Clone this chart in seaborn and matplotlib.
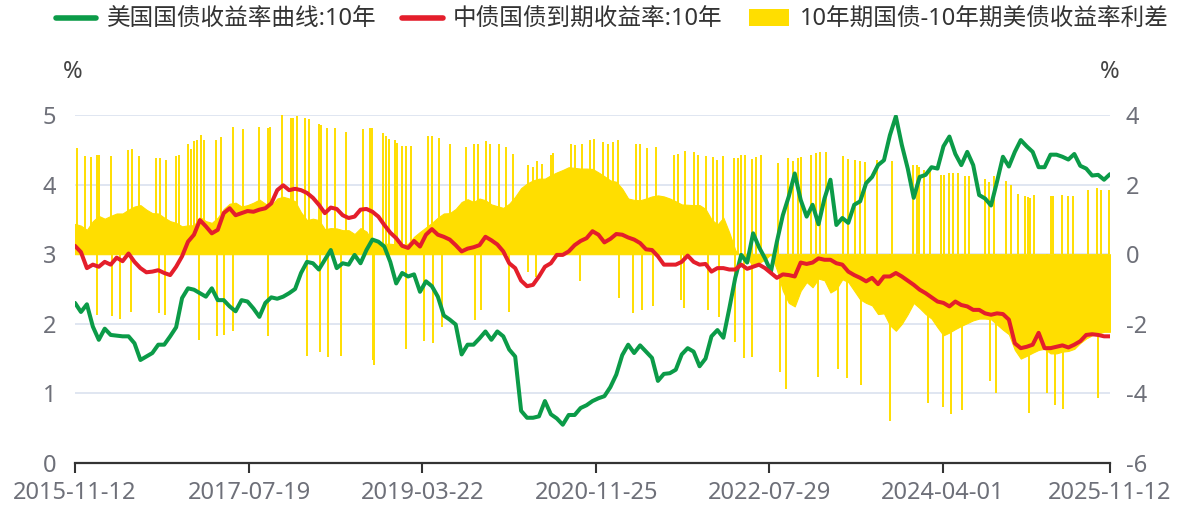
import numpy as np
import pandas as pd
import matplotlib
matplotlib.use("Agg")
import matplotlib.pyplot as plt
from matplotlib.lines import Line2D
from matplotlib.patches import Patch
import seaborn as sns

# ---------------------------------------------------------------- data
start_date, end_date = "2015-11-12", "2025-11-12"
n_obs = 175  # roughly three-weekly observations

# US Treasury 10Y yield (%)
us_10y = [
    2.30, 2.17, 2.28, 1.96, 1.77, 1.93, 1.84, 1.83, 1.82, 1.82,
    1.72, 1.48, 1.53, 1.58, 1.70, 1.70, 1.82, 1.95, 2.37, 2.51,
    2.49, 2.44, 2.39, 2.51, 2.34, 2.34, 2.25, 2.18, 2.34, 2.32,
    2.22, 2.10, 2.30, 2.38, 2.36, 2.39, 2.44, 2.50, 2.73, 2.89,
    2.87, 2.78, 2.92, 3.06, 2.80, 2.87, 2.85, 2.99, 2.87, 3.06,
    3.21, 3.18, 3.11, 2.89, 2.58, 2.73, 2.68, 2.71, 2.46, 2.61,
    2.54, 2.39, 2.12, 2.06, 1.99, 1.56, 1.70, 1.70, 1.79, 1.89,
    1.77, 1.89, 1.82, 1.63, 1.53, 0.75, 0.65, 0.65, 0.67, 0.89,
    0.70, 0.64, 0.55, 0.69, 0.69, 0.79, 0.83, 0.89, 0.93, 0.96,
    1.09, 1.27, 1.55, 1.70, 1.58, 1.69, 1.60, 1.51, 1.18, 1.28,
    1.29, 1.34, 1.56, 1.65, 1.60, 1.39, 1.50, 1.82, 1.91, 1.80,
    2.22, 2.66, 2.99, 2.88, 3.30, 3.10, 2.94, 2.75, 3.18, 3.56,
    3.83, 4.16, 3.78, 3.54, 3.71, 3.43, 3.80, 4.07, 3.42, 3.52,
    3.45, 3.71, 3.76, 4.02, 4.11, 4.28, 4.35, 4.71, 4.98, 4.57,
    4.23, 3.81, 4.11, 4.14, 4.25, 4.23, 4.55, 4.69, 4.44, 4.28,
    4.47, 4.28, 3.85, 3.80, 3.70, 4.04, 4.40, 4.26, 4.47, 4.64,
    4.55, 4.47, 4.25, 4.25, 4.43, 4.43, 4.40, 4.36, 4.44, 4.27,
    4.23, 4.13, 4.14, 4.07, 4.15,
]

# ChinaBond government bond 10Y yield to maturity (%)
cn_10y = [
    3.12, 3.03, 2.80, 2.85, 2.82, 2.89, 2.85, 2.95, 2.90, 3.01,
    2.89, 2.80, 2.74, 2.75, 2.77, 2.73, 2.70, 2.82, 2.97, 3.18,
    3.28, 3.49, 3.40, 3.30, 3.35, 3.59, 3.66, 3.56, 3.59, 3.62,
    3.61, 3.64, 3.66, 3.73, 3.92, 3.99, 3.92, 3.94, 3.92, 3.88,
    3.81, 3.71, 3.59, 3.67, 3.65, 3.56, 3.52, 3.54, 3.64, 3.65,
    3.61, 3.54, 3.42, 3.31, 3.23, 3.12, 3.09, 3.19, 3.11, 3.28,
    3.36, 3.28, 3.25, 3.21, 3.13, 3.04, 3.08, 3.10, 3.13, 3.25,
    3.20, 3.14, 3.04, 2.87, 2.80, 2.62, 2.54, 2.56, 2.68, 2.82,
    2.87, 2.99, 2.99, 3.04, 3.13, 3.19, 3.23, 3.33, 3.28, 3.17,
    3.22, 3.29, 3.28, 3.24, 3.21, 3.16, 3.07, 3.06, 2.97, 2.85,
    2.85, 2.85, 2.89, 2.98, 2.89, 2.85, 2.86, 2.75, 2.80, 2.80,
    2.78, 2.78, 2.85, 2.79, 2.82, 2.85, 2.80, 2.73, 2.66, 2.71,
    2.70, 2.68, 2.88, 2.86, 2.88, 2.94, 2.92, 2.92, 2.87, 2.85,
    2.75, 2.70, 2.66, 2.61, 2.66, 2.57, 2.68, 2.68, 2.73, 2.68,
    2.62, 2.56, 2.49, 2.44, 2.38, 2.32, 2.30, 2.25, 2.32, 2.27,
    2.25, 2.20, 2.20, 2.15, 2.13, 2.15, 2.14, 2.06, 1.72, 1.65,
    1.67, 1.70, 1.87, 1.65, 1.65, 1.67, 1.69, 1.66, 1.70, 1.75,
    1.84, 1.85, 1.84, 1.82, 1.82,
]

# 10Y CGB minus 10Y UST spread (%), upper envelope of daily values
spread = [
    0.87, 0.82, 0.70, 0.95, 1.10, 1.02, 1.10, 1.17, 1.17, 1.28,
    1.37, 1.41, 1.28, 1.18, 1.17, 1.05, 0.95, 0.90, 0.80, 0.83,
    0.83, 1.07, 0.95, 0.90, 1.05, 1.30, 1.45, 1.48, 1.37, 1.41,
    1.48, 1.57, 1.45, 1.40, 1.60, 1.65, 1.60, 1.52, 1.20, 0.98,
    1.02, 0.98, 0.72, 0.75, 0.74, 0.69, 0.69, 0.58, 0.75, 0.65,
    0.37, 0.30, 0.30, 0.30, 0.28, 0.28, 0.30, 0.50, 0.64, 0.77,
    0.90, 1.05, 1.17, 1.18, 1.30, 1.50, 1.58, 1.50, 1.60, 1.55,
    1.43, 1.38, 1.33, 1.45, 1.65, 1.90, 2.03, 2.12, 2.17, 2.17,
    2.27, 2.35, 2.42, 2.50, 2.48, 2.46, 2.46, 2.45, 2.35, 2.24,
    2.12, 2.08, 1.88, 1.60, 1.56, 1.55, 1.60, 1.66, 1.69, 1.66,
    1.60, 1.52, 1.43, 1.42, 1.41, 1.41, 1.30, 1.00, 0.85, 1.05,
    0.62, 0.12, -0.08, -0.10, -0.35, -0.25, -0.15, 0.00, -0.45, -1.05,
    -1.40, -1.50, -1.05, -0.80, -0.95, -0.70, -0.75, -1.10, -1.00, -0.72,
    -0.80, -1.05, -1.30, -1.40, -1.47, -1.72, -1.70, -2.04, -2.20, -2.00,
    -1.72, -1.40, -1.55, -1.72, -1.85, -2.10, -2.33, -2.25, -2.15, -2.06,
    -1.98, -1.90, -1.85, -1.85, -1.87, -2.02, -2.17, -2.30, -2.75, -3.00,
    -2.92, -2.83, -2.75, -2.72, -2.85, -2.85, -2.80, -2.78, -2.72, -2.55,
    -2.42, -2.33, -2.28, -2.23, -2.23,
]

# Days on which the US market was closed: the spread equals the CGB yield
us_closed_dates = [
    "2015-11-18", "2015-12-17", "2016-01-06", "2016-01-27", "2016-02-05", "2016-03-17",
    "2016-05-18", "2016-06-01", "2016-06-24", "2016-08-24", "2016-09-07", "2016-09-28",
    "2016-11-02", "2016-11-14", "2016-12-16", "2016-12-24",
    "2017-01-05", "2017-01-14", "2017-01-28", "2017-02-10", "2017-03-24", "2017-04-09",
    "2017-05-21", "2017-06-26", "2017-08-24", "2017-09-22", "2017-09-30", "2017-11-13",
    "2017-12-13", "2017-12-21",
    "2018-01-04", "2018-02-01", "2018-02-16", "2018-03-23", "2018-03-28", "2018-04-18",
    "2018-05-19", "2018-06-25", "2018-08-23", "2018-09-18", "2018-09-27", "2018-11-02",
    "2018-11-12", "2018-11-25", "2018-12-14", "2018-12-21",
    "2019-01-08", "2019-01-23", "2019-02-10", "2019-04-12", "2019-04-26", "2019-05-20",
    "2019-06-27", "2019-08-23", "2019-09-20", "2019-10-05", "2019-11-02", "2019-11-16",
    "2019-12-17",
    "2020-01-11", "2020-02-06", "2020-03-30", "2020-04-14", "2020-05-01", "2020-05-16",
    "2020-06-17", "2020-06-26", "2020-08-26", "2020-09-12", "2020-10-04", "2020-11-03",
    "2020-11-18", "2020-12-17",
    "2021-01-06", "2021-01-22", "2021-02-10", "2021-04-14", "2021-04-28", "2021-05-24",
    "2021-06-24", "2021-08-26", "2021-09-10", "2021-10-04", "2021-11-05", "2021-11-20",
    "2021-12-16",
    "2022-01-10", "2022-01-24", "2022-02-14", "2022-03-26", "2022-04-10", "2022-04-19",
    "2022-05-04", "2022-05-27", "2022-06-11", "2022-06-28", "2022-08-29", "2022-10-01",
    "2022-10-21", "2022-11-07", "2022-11-19", "2022-12-21",
    "2023-01-09", "2023-01-23", "2023-02-13", "2023-04-16", "2023-05-03", "2023-05-27",
    "2023-06-13", "2023-07-01", "2023-08-11", "2023-10-03", "2023-12-19", "2023-12-31",
    "2024-01-08", "2024-01-26", "2024-02-15", "2024-03-24", "2024-04-05", "2024-04-24",
    "2024-05-08", "2024-05-24", "2024-06-18", "2024-07-03", "2024-08-28", "2024-09-12",
    "2024-09-30", "2024-11-10", "2024-11-27", "2024-12-24",
    "2025-01-17", "2025-01-25", "2025-02-04", "2025-02-17", "2025-04-17", "2025-04-26",
    "2025-05-27", "2025-06-18", "2025-07-03", "2025-08-28", "2025-09-27", "2025-10-11",
    "2025-11-10",
]
us_closed_spread = [
    3.05, 2.82, 2.79, 2.86, 2.84, 2.82, 2.99, 3.03, 2.82, 2.77, 2.77, 2.70,
    2.82, 2.86, 3.18, 3.03,
    3.25, 3.27, 3.42, 3.27, 3.27, 3.37, 3.66, 3.60, 3.66, 3.63, 3.66, 4.00,
    3.90, 3.90,
    3.97, 3.90, 3.88, 3.75, 3.70, 3.63, 3.63, 3.51, 3.60, 3.63, 3.63, 3.49,
    3.40, 3.32, 3.28, 3.20,
    3.11, 3.11, 3.11, 3.40, 3.40, 3.34, 3.16, 3.08, 3.16, 3.18, 3.24, 3.16,
    3.16,
    3.08, 2.89, 2.55, 2.50, 2.67, 2.60, 2.84, 2.92, 3.16, 3.13, 3.18, 3.27,
    3.30, 3.21,
    3.16, 3.23, 3.27, 3.18, 3.18, 3.05, 3.08, 2.84, 2.89, 2.96, 2.94, 2.86,
    2.82,
    2.79, 2.70, 2.82, 2.76, 2.76, 2.84, 2.84, 2.73, 2.80, 2.85, 2.63, 2.77,
    2.67, 2.77, 2.80, 2.86,
    2.91, 2.93, 2.93, 2.82, 2.74, 2.70, 2.67, 2.65, 2.70, 2.67, 2.55, 2.55,
    2.51, 2.41, 2.45, 2.29, 2.29, 2.32, 2.34, 2.32, 2.25, 2.25, 2.17, 2.08,
    2.25, 2.10, 2.00, 1.74,
    1.67, 1.64, 1.62, 1.69, 1.67, 1.67, 1.71, 1.67, 1.67, 1.84, 1.89, 1.84,
    1.84,
]

# Days on which the China market was closed: the spread equals minus the UST yield
cn_closed_dates = [
    "2016-01-30", "2016-03-23", "2016-04-20", "2016-05-29", "2016-09-05", "2016-09-26",
    "2017-01-24", "2017-03-27", "2017-04-22", "2017-05-23", "2017-09-24",
    "2018-02-08", "2018-03-25", "2018-04-22", "2018-06-07", "2018-09-29", "2018-10-04",
    "2019-01-25", "2019-03-29", "2019-04-28", "2019-05-31", "2019-09-25", "2019-10-15",
    "2020-01-23", "2020-03-28", "2020-04-27", "2020-09-27",
    "2021-02-12", "2021-04-05", "2021-05-05", "2021-06-14", "2021-09-21", "2021-10-01",
    "2021-12-23",
    "2022-01-31", "2022-03-30", "2022-04-30", "2022-05-30", "2022-09-03", "2022-09-27",
    "2023-01-17", "2023-03-29", "2023-04-28", "2023-06-17", "2023-09-28",
    "2024-02-09", "2024-04-01", "2024-04-30", "2024-06-07", "2024-09-14", "2024-10-04",
    "2025-01-29", "2025-04-03", "2025-05-02", "2025-05-31", "2025-10-01",
]
cn_closed_spread = [
    -1.75, -1.77, -1.87, -1.66, -1.70, -1.75,
    -2.47, -2.34, -2.33, -2.20, -2.34,
    -2.92, -2.82, -2.95, -2.92, -3.04, -3.19,
    -2.71, -2.50, -2.55, -2.09, -1.88, -1.61,
    -1.66, -0.50, -0.65, -0.78,
    -1.27, -1.70, -1.61, -1.48, -1.32, -1.56,
    -1.61,
    -1.80, -2.52, -2.98, -2.95, -3.38, -3.86,
    -3.52, -3.30, -3.56, -3.75, -4.79,
    -4.29, -4.38, -4.60, -4.48, -3.64, -4.00,
    -4.55, -4.00, -4.33, -4.45, -4.14,
]

tick_labels = ["2015-11-12", "2017-07-19", "2019-03-22", "2020-11-25",
               "2022-07-29", "2024-04-01", "2025-11-12"]

legend_labels = ["美国国债收益率曲线:10年", "中债国债到期收益率:10年",
                 "10年期国债-10年期美债收益率利差"]

# ---------------------------------------------------------------- style
GREEN = "#0B9B48"
RED = "#E41E2B"
YELLOW = "#FFDE00"
GRID = "#E0E6F1"
LABEL = "#6E7079"
AXIS = "#333333"

sns.set_theme(style="white")
plt.rcParams["font.family"] = ["Noto Sans", "Noto Sans CJK SC"]
plt.rcParams["axes.unicode_minus"] = False
FS = 17

dates = pd.date_range(start_date, end_date, periods=n_obs)
df = pd.DataFrame({"date": dates, "us": us_10y, "cn": cn_10y, "spread": spread})

W, H = 1182, 507
fig = plt.figure(figsize=(W / 100, H / 100), dpi=100)
left, right, top, bottom = 75, 1110, 115, 463
ax = fig.add_axes([left / W, 1 - bottom / H, (right - left) / W, (bottom - top) / H])
ax2 = ax.twinx()
ax.set_zorder(ax2.get_zorder() + 1)
ax.patch.set_visible(False)

# spread (right axis, beneath the yield lines)
ax2.set_axisbelow(True)
ax2.grid(axis="y", color=GRID, linewidth=1.4)
ax2.fill_between(df["date"], 0, df["spread"], color=YELLOW, linewidth=0.8,
                 edgecolor=YELLOW, zorder=2)
ax2.vlines(pd.to_datetime(us_closed_dates), 0, us_closed_spread,
           color=YELLOW, linewidth=1.4, zorder=2)
ax2.vlines(pd.to_datetime(cn_closed_dates), 0, cn_closed_spread,
           color=YELLOW, linewidth=1.4, zorder=2)
ax2.set_ylim(-6, 4)
ax2.set_yticks(np.arange(-6, 5, 2))
ax2.tick_params(axis="y", length=0, pad=11.5, labelsize=FS, labelcolor=LABEL)

# yields (left axis)
sns.lineplot(data=df, x="date", y="us", ax=ax, color=GREEN, linewidth=2.9, legend=False)
sns.lineplot(data=df, x="date", y="cn", ax=ax, color=RED, linewidth=2.9, legend=False)
ax.set_ylim(0, 5)
ax.set_yticks(range(0, 6))
ax.tick_params(axis="y", length=0, pad=13.5, labelsize=FS, labelcolor=LABEL)
ax.set_xlabel("")
ax.set_ylabel("")
ax2.set_ylabel("")

ax.set_xlim(pd.Timestamp(start_date), pd.Timestamp(end_date))
ax.set_xticks(pd.to_datetime(tick_labels))
ax.set_xticklabels(tick_labels)
ax.tick_params(axis="x", length=7, width=1.5, color=AXIS, pad=6,
               labelsize=FS, labelcolor=LABEL, bottom=True)

for a in (ax, ax2):
    for s in a.spines.values():
        s.set_visible(False)
ax.spines["bottom"].set_visible(True)
ax.spines["bottom"].set_color(AXIS)
ax.spines["bottom"].set_linewidth(1.6)

fig.text(73 / W, 1 - 72 / H, "%", ha="center", va="center", fontsize=FS, color="#444444")
fig.text(1110 / W, 1 - 72 / H, "%", ha="center", va="center", fontsize=FS, color="#444444")

handles = [Line2D([], [], color=GREEN, linewidth=4),
           Line2D([], [], color=RED, linewidth=4),
           Patch(facecolor=YELLOW, edgecolor="none")]
fig.legend(handles, legend_labels, loc="center", bbox_to_anchor=(0.518, 1 - 20 / H),
           ncol=3, frameon=False, fontsize=FS, handlelength=1.7, handletextpad=0.45,
           columnspacing=1.1, labelcolor="#333333")

fig.savefig("out.png", dpi=100)
